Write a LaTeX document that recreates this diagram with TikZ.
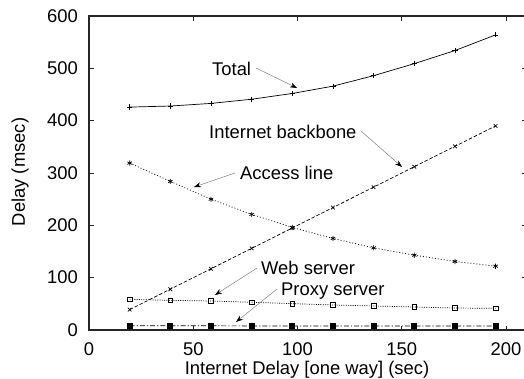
\documentclass[tikz,border=0pt]{standalone}
\usepackage{fontspec}
\setmainfont{Liberation Sans}
\usetikzlibrary{arrows.meta,plotmarks}
\begin{document}
\begin{tikzpicture}[x=1pt,y=-1pt,
  lbl/.style={font=\fontsize{18.4}{21}\selectfont, inner sep=0pt},
  frame/.style={line width=1.1pt, black!85},
  tick/.style={line width=0.8pt, black!85},
  curve/.style={line width=0.7pt, black},
  pointer/.style={gray, line width=0.5pt, -{Stealth[length=7pt,width=5pt,black]}},
]
\useasboundingbox (0,0) rectangle (524,378);
\begin{scope}[shift={(89,330)}, x=2.085pt, y=0.5233pt]
  % frame
  \draw[frame] (0,0) rectangle (210,600);
  % ticks and labels
  \foreach \v in {0,50,100,150,200}{
    \draw[tick] (\v,0) -- ++(0pt,4.5pt);
    \draw[tick] (\v,600) -- ++(0pt,-4.5pt);
    \node[lbl, anchor=base, yshift=-25.7pt] (xl\v) at (\v,0) {\v};
  }
  \foreach \v in {0,100,200,300,400,500,600}{
    \draw[tick] (0,\v) -- ++(4.5pt,0pt);
    \draw[tick] (210,\v) -- ++(-4.5pt,0pt);
    \node[lbl, anchor=base east, xshift=-11pt, yshift=-6pt] (yl\v) at (0,\v) {\v};
  }
  % Total
  \draw[curve] plot[mark=+, mark size=2.6pt, mark options={solid}] coordinates {
    (19.5,426) (39,428) (58.5,433) (78,441) (97.5,452) (117,466) (136.5,486) (156,509) (175.5,534) (195,564)};
  % Internet backbone
  \draw[curve, dash pattern=on 3.5pt off 2pt] plot[mark=x, mark size=2.6pt, mark options={solid}] coordinates {
    (19.5,39) (39,78) (58.5,117) (78,156) (97.5,195) (117,234) (136.5,273) (156,312) (175.5,351) (195,390)};
  % Access line
  \draw[curve, dash pattern=on 1pt off 2pt] plot[mark=asterisk, mark size=2.6pt, mark options={solid}] coordinates {
    (19.5,319) (39,284) (58.5,250) (78,221) (97.5,196) (117,175) (136.5,157) (156,143) (175.5,131) (195,122)};
  % Web server
  \draw[curve, dash pattern=on 1pt off 1.3pt] plot[mark=square, mark size=2.4pt, mark options={solid}] coordinates {
    (19.5,58.6) (39,56.7) (58.5,55.4) (78,53) (97.5,50.4) (117,47.8) (136.5,45.9) (156,44) (175.5,42) (195,41.4)};
  % Proxy server
  \draw[curve, dash pattern=on 5pt off 2pt on 1.2pt off 2pt] plot[mark=square*, mark size=2.5pt, mark options={solid}] coordinates {
    (19.5,8) (39,8) (58.5,8) (78,7.8) (97.5,7.6) (117,7.6) (136.5,7.5) (156,7.5) (175.5,7.5) (195,7.5)};
\end{scope}
% axis titles
\node[lbl, anchor=base] (xtitle) at (307,374) {Internet Delay [one way] (sec)};
\node[lbl, rotate=90, anchor=center] (ytitle) at (20,172) {Delay (msec)};
% curve labels
\node[lbl, anchor=base west] (ltotal) at (212,75.5) {Total};
\node[lbl, anchor=base west] (lback) at (209,138) {Internet backbone};
\node[lbl, anchor=base west] (lacc) at (240,179) {Access line};
\node[lbl, anchor=base west] (lweb) at (261,274) {Web server};
\node[lbl, anchor=base west] (lproxy) at (281,295) {Proxy server};
% pointer ends
\coordinate (ts) at (256,68);   \coordinate (te) at (297,88);
\coordinate (bs) at (361,131);  \coordinate (be) at (402,167);
\coordinate (as) at (235,173);  \coordinate (ae) at (194,187);
\coordinate (ws) at (257,268);  \coordinate (we) at (215,295);
\coordinate (ps) at (277,289);  \coordinate (pe) at (236,322);
\draw[pointer] (ts) -- (te);
\draw[pointer] (bs) -- (be);
\draw[pointer] (as) -- (ae);
\draw[pointer] (ws) -- (we);
\draw[pointer] (ps) -- (pe);
\end{tikzpicture}
\end{document}
